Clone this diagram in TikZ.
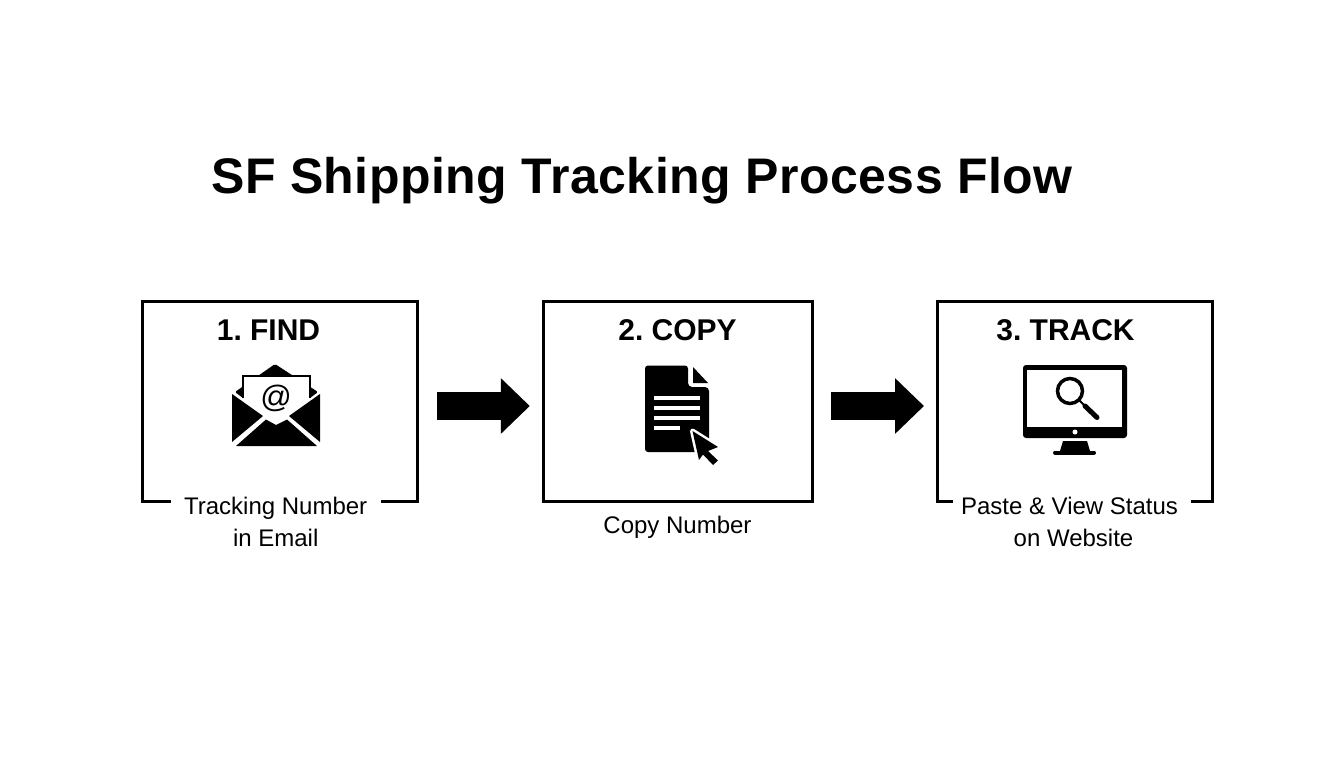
\documentclass[tikz,border=0pt]{standalone}
\usepackage{fontspec}
\setmainfont{Liberation Sans}
\usetikzlibrary{arrows.meta}

\tikzset{
    stepbox/.style={draw=black, line width=3pt, fill=none, inner sep=0pt, outer sep=0pt, minimum height=200pt},
    steptitle/.style={font=\fontsize{30}{32}\selectfont\bfseries\frenchspacing},
    steplabel/.style={font=\fontsize{24}{32}\selectfont, align=center, fill=white, inner sep=0pt},
    flowarrow/.style={line width=28pt, -{Triangle[length=29pt, width=54pt]}},
    whiteline/.style={draw=white, line width=4pt}
}

\begin{document}
\begin{tikzpicture}[x=1pt, y=-1pt]

    \useasboundingbox (0,0) rectangle (1344,768);

    % TITLE
    \node (title) at (642,181) {\fontsize{50}{56}\selectfont\bfseries\addfontfeature{LetterSpace=1}SF Shipping Tracking Process Flow};

    % BOXES
    \node[stepbox, minimum width=275.3pt] (find) at (279.85,401) {};
    \node[stepbox, minimum width=269pt] (copy) at (678.3,401) {};
    \node[stepbox, minimum width=275pt] (track) at (1074.5,401) {};

    % BOX TITLES
    \node[steptitle] (findtitle) at (268.5,330) {1. FIND};
    \node[steptitle] (copytitle) at (677.5,330) {2. COPY};
    \node[steptitle] (tracktitle) at (1065.5,330) {3. TRACK};

    % BOX LABELS
    \node[steplabel, minimum width=210pt] (findlabel) at (275.7,522) {Tracking Number\\in Email};
    \node[steplabel] (copylabel) at (677.5,527.5) {Copy Number};
    \node[steplabel, minimum width=237.5pt] (tracklabel) at (1072,522) {\hspace*{-5pt}Paste \& View Status\\\hspace*{3pt}on Website};

    % ARROWS
    \draw[flowarrow, shorten <=19pt, shorten >=14pt] ([yshift=-5pt]find.east) -- ([yshift=-5pt]copy.west);
    \draw[flowarrow, shorten <=18pt, shorten >=13pt] ([yshift=-5pt]copy.east) -- ([yshift=-5pt]track.west);

    % ENVELOPE
    \fill[rounded corners=1.5pt] (235,392) -- (275,364) -- (318,392) -- (310,398) -- (243,398) -- cycle;
    \fill[white] (243,398) -- (243,376) -- (310,376) -- (310,398) -- (276,426) -- cycle;
    \draw[line width=1.5pt] (243,398) -- (243,376) -- (310,376) -- (310,398);
    \fill (232,394) -- (263,416) -- (232,442) -- cycle;
    \fill (320,394) -- (289,416) -- (320,442) -- cycle;
    \fill (236,446) -- (266,419.5) -- (276,425) -- (287,419.5) -- (317,446) -- cycle;
    \node[font=\fontsize{31}{34}\selectfont, inner sep=0pt] (at) at (276,398) {@};

    % DOCUMENT
    \fill[rounded corners=3pt] (645,365.5) -- (688,365.5) -- (688,380) [sharp corners] -- (688,380)
        [rounded corners=4pt] -- (688,387) -- (709,387) [rounded corners=3pt] -- (709,452) -- (645,452) -- cycle;
    \fill (693,367) -- (708,383) -- (693,383) -- cycle;
    \draw[whiteline] (654,398) -- (700,398);
    \draw[whiteline] (654,408) -- (700,408);
    \draw[whiteline] (654,418) -- (700,418);
    \draw[whiteline] (654,428) -- (680,428);

    % CURSOR
    \draw[draw=white, line width=5pt, line join=round]
        (692.5,431) -- (718,447) -- (708,451) -- (718,460.5) -- (713,465) -- (703,454.5) -- (699,460) -- cycle;
    \fill (692.5,431) -- (718,447) -- (708,451) -- (718,460.5) -- (713,465) -- (703,454.5) -- (699,460) -- cycle;

    % MONITOR
    \fill[rounded corners=3pt] (1023,365) rectangle (1127,438);
    \fill[white] (1027,370) rectangle (1122,426.5);
    \fill[white] (1075,432) circle (2.5pt);
    \fill (1063,441) -- (1087,441) -- (1090,451) -- (1060,451) -- cycle;
    \draw[line width=4pt, line cap=round] (1055,452.5) -- (1094,452.5);

    % MAGNIFIER
    \draw[line width=3.5pt] (1070,391) circle (12.5pt);
    \draw[line width=2pt] (1079,400) -- (1086,407);
    \draw[line width=5pt, line cap=round] (1085,406) -- (1097,417.5);

\end{tikzpicture}
\end{document}
